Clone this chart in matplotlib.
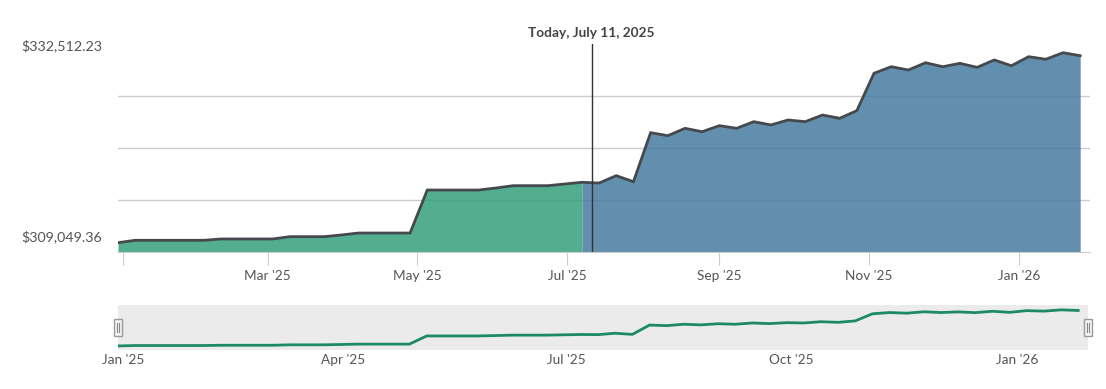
import numpy as np
import pandas as pd
import matplotlib
matplotlib.use('Agg')
from matplotlib import pyplot as plt
import matplotlib.dates as mdates
from matplotlib.patches import Rectangle

plt.rcParams['font.family'] = ['Lato', 'DejaVu Sans']

# weekly balance, starting Dec 30 2024
START = '2024-12-30'
VALUES = [
    310100, 310370, 310370, 310370, 310370, 310370, 310520, 310520, 310520, 310520,
    310780, 310780, 310780, 310970, 311190, 311190, 311190, 311190, 316040, 316040,
    316040, 316040, 316270, 316530, 316530, 316530, 316720, 316910, 316830, 317660,
    316980, 322510, 322170, 323000, 322620, 323300, 323000, 323750, 323380, 323940,
    323750, 324500, 324130, 324990, 329210, 329950, 329580, 330400, 329950, 330330,
    329880, 330710, 330060, 331080, 330790, 331530, 331190,
]
LAST_ACTUAL = 27          # index of last actual (green) point
TODAY = '2025-07-11'
TODAY_LABEL = 'Today, July 11, 2025'
Y_MIN = 309049.36
Y_MAX = 332512.23
Y_LABELS = ['$309,049.36', '$332,512.23']

MAIN_TICKS = ['2025-01-01', '2025-03-01', '2025-05-01', '2025-07-01',
              '2025-09-01', '2025-11-01', '2026-01-01']
MAIN_TICK_LABELS = ['', "Mar '25", "May '25", "Jul '25", "Sep '25", "Nov '25", "Jan '26"]
NAV_TICKS = ['2025-01-01', '2025-04-01', '2025-07-01', '2025-10-01', '2026-01-01']
NAV_TICK_LABELS = ["Jan '25", "Apr '25", "Jul '25", "Oct '25", "Jan '26"]

dates = pd.date_range(START, periods=len(VALUES), freq='7D')
vals = np.array(VALUES, dtype=float)
xlim = (mdates.date2num(pd.Timestamp('2024-12-30')), mdates.date2num(pd.Timestamp('2026-01-30')))

W, H = 1106, 389
fig = plt.figure(figsize=(W / 100, H / 100), dpi=100)

# main chart
ax = fig.add_axes([118 / W, 1 - 252 / H, 972 / W, 208 / H])
ax.set_xlim(xlim)
ax.set_ylim(Y_MIN, Y_MAX)

step = (Y_MAX - Y_MIN) / 4
for k in range(1, 4):
    ax.axhline(Y_MIN + k * step, color='#cccccc', lw=1, zorder=0)

ax.fill_between(dates[LAST_ACTUAL:], vals[LAST_ACTUAL:], Y_MIN,
                color='#477ba0', alpha=0.85, lw=0, zorder=1)
ax.fill_between(dates[:LAST_ACTUAL + 1], vals[:LAST_ACTUAL + 1], Y_MIN,
                color='#34a07a', alpha=0.85, lw=0, zorder=1)
ax.plot(dates, vals, color='#45494d', lw=2, zorder=3, solid_joinstyle='miter')

ax.axvline(pd.Timestamp(TODAY), color='#333333', lw=1, zorder=4)
ax.text(pd.Timestamp(TODAY), Y_MAX + step * 0.1, TODAY_LABEL, ha='center', va='bottom',
        fontsize=9.8, fontweight='bold', color='#444444')

for s in ['top', 'right', 'left']:
    ax.spines[s].set_visible(False)
ax.spines['bottom'].set_color('#cccccc')
ax.set_yticks([])
ax.set_xticks([mdates.date2num(pd.Timestamp(d)) for d in MAIN_TICKS])
ax.set_xticklabels(MAIN_TICK_LABELS)
ax.tick_params(axis='x', length=9, color='#cccccc', labelcolor='#555555', labelsize=9.8, pad=4)

fig.text(102 / W, 1 - 237 / H, Y_LABELS[0], ha='right', va='center', fontsize=10.3, color='#555555')
fig.text(102 / W, 1 - 46 / H, Y_LABELS[1], ha='right', va='center', fontsize=10.3, color='#555555')

# navigator
nav = fig.add_axes([118 / W, 1 - 350 / H, 970 / W, 45 / H])
nav.set_facecolor('#ebebeb')
nav.set_xlim(xlim)
nav.set_ylim(vals.min() - 2400, vals.max() + 2900)
nav.plot(dates, vals, color='#1d8a66', lw=2)
for s in nav.spines.values():
    s.set_visible(False)
nav.set_yticks([])
nav.set_xticks([mdates.date2num(pd.Timestamp(d)) for d in NAV_TICKS])
nav.set_xticklabels(NAV_TICK_LABELS)
nav.tick_params(axis='x', length=0, labelcolor='#555555', labelsize=9.8, pad=3)

for hx in [0.0, 1.0]:
    nav.add_patch(Rectangle((hx - 0.004, 0.32), 0.008, 0.36, transform=nav.transAxes,
                            facecolor='#f4f4f4', edgecolor='#999999', lw=1, clip_on=False, zorder=5))
    for dx in [-0.0012, 0.0012]:
        nav.plot([hx + dx, hx + dx], [0.4, 0.6], transform=nav.transAxes, color='#888888',
                 lw=0.8, clip_on=False, zorder=6)

fig.savefig('out.png', dpi=100)
